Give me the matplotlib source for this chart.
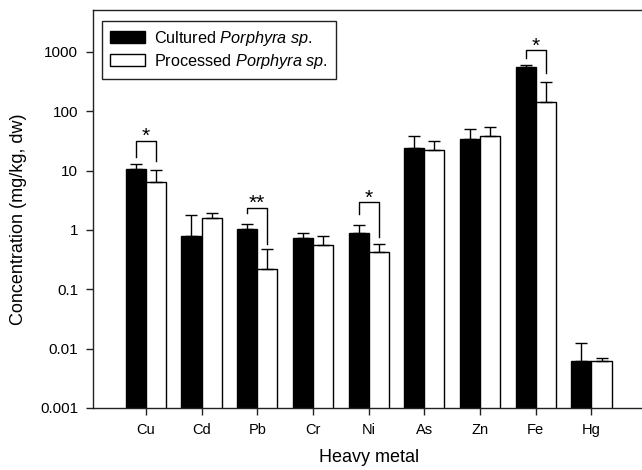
import matplotlib
matplotlib.use("Agg")
import matplotlib.pyplot as plt
import numpy as np

plt.rcParams['font.family'] = ['Liberation Sans', 'DejaVu Sans']
plt.rcParams['mathtext.fontset'] = 'custom'
plt.rcParams['mathtext.rm'] = 'Liberation Sans'
plt.rcParams['mathtext.it'] = 'Liberation Sans:italic'

# data (mg/kg, dw)
metals = ['Cu', 'Cd', 'Pb', 'Cr', 'Ni', 'As', 'Zn', 'Fe', 'Hg']
cultured = [10.8, 0.78, 1.02, 0.72, 0.88, 24.0, 33.5, 553, 0.0062]
cultured_err = [2.0, 0.99, 0.22, 0.18, 0.33, 14.3, 16.0, 50, 0.0060]
processed = [6.4, 1.6, 0.22, 0.56, 0.42, 21.8, 38.0, 145, 0.0062]
processed_err = [3.7, 0.35, 0.25, 0.22, 0.15, 9.8, 16.0, 160, 0.0007]

# significance brackets: index, top, left leg end, right leg end, label
sig_idx = [0, 2, 4, 7]
sig_top = [31.6, 2.36, 2.93, 1068]
sig_left = [17.2, 1.92, 1.82, 802]
sig_right = [14.3, 0.586, 0.757, 432]
sig_label = ['*', '**', '*', '*']

fig = plt.figure(figsize=(6.42, 4.70), dpi=100)
ax = fig.add_axes([0.1444, 0.132, 1.004 - 0.1444, 0.978 - 0.132])

x = np.arange(len(metals))
w = 0.36
ax.bar(x - w / 2, cultured, w, color='black', edgecolor='black', lw=1,
       label=r'Cultured $\mathit{Porphyra\ sp.}$', zorder=2)
ax.bar(x + w / 2, processed, w, color='white', edgecolor='black', lw=1,
       label=r'Processed $\mathit{Porphyra\ sp.}$', zorder=2)
ax.errorbar(x - w / 2, cultured, yerr=[np.zeros(len(x)), cultured_err],
            fmt='none', ecolor='black', elinewidth=1, capsize=4.2, capthick=1, zorder=3)
ax.errorbar(x + w / 2, processed, yerr=[np.zeros(len(x)), processed_err],
            fmt='none', ecolor='black', elinewidth=1, capsize=4.2, capthick=1, zorder=3)

for i, top, yl, yr, lab in zip(sig_idx, sig_top, sig_left, sig_right, sig_label):
    ax.plot([i - w / 2, i - w / 2, i + w / 2, i + w / 2], [yl, top, top, yr],
            color='black', lw=1, zorder=3)
    ax.annotate(lab, (i, top), xytext=(0, -1), textcoords='offset points',
                ha='center', va='baseline', fontsize=15)

ax.set_yscale('log')
ax.set_ylim(0.001, 5000)
ax.set_xlim(-0.953, len(metals) - 1 + 0.953)
ax.set_yticks([0.001, 0.01, 0.1, 1, 10, 100, 1000])
ax.set_yticklabels(['0.001', '0.01', '0.1', '1', '10', '100', '1000'])
ax.yaxis.set_minor_locator(matplotlib.ticker.NullLocator())
ax.set_xticks(x)
ax.set_xticklabels(metals)
ax.tick_params(direction='out', length=5, width=1, color='#222222')
ax.tick_params(axis='y', labelsize=11, pad=5.5)
ax.tick_params(axis='x', labelsize=10.5, pad=5.5)
for s in ax.spines.values():
    s.set_color('#222222')
    s.set_linewidth(1)

ax.set_xlabel('Heavy metal', fontsize=13)
ax.xaxis.set_label_coords(0.5, -0.1024)
ax.set_ylabel('Concentration (mg/kg, dw)', fontsize=13)
ax.yaxis.set_label_coords(-0.1185, 0.475)

leg = ax.legend(loc='upper left', bbox_to_anchor=(0.0163, 0.9736), borderaxespad=0,
                fontsize=11.7, fancybox=False, edgecolor='#222222', framealpha=1,
                handlelength=2.15, handleheight=0.77, handletextpad=0.55,
                borderpad=0.5, labelspacing=0.25)
leg.get_frame().set_linewidth(1)

fig.savefig('out.png', dpi=100)
